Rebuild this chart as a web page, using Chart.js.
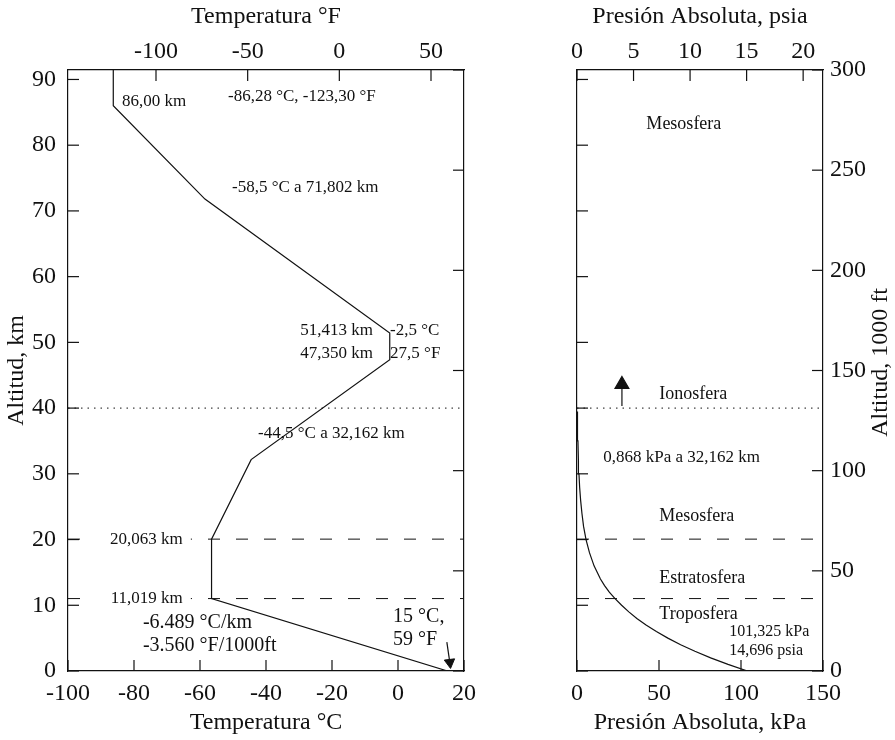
<!DOCTYPE html>
<html>
<head>
<meta charset="utf-8">
<script src="https://cdn.jsdelivr.net/npm/chart.js@4.4.1/dist/chart.umd.min.js"></script>
<style>
  body { margin: 0; background: #fff; }
  #wrap { position: relative; width: 895px; height: 740px; }
  #tempChart { position: absolute; left: 0; top: 0; }
  #presChart { position: absolute; left: 540px; top: 0; }
</style>
</head>
<body>
<div id="wrap">
  <canvas id="tempChart" width="484" height="740"></canvas>
  <canvas id="presChart" width="355" height="740"></canvas>
</div>
<script>
// temperature profile, °C against altitude in km
const tempC   = [15, -56.5, -56.5, -44.5, -2.5, -2.5, -58.5, -86.28, -86.28];
const tempAlt = [0, 11.019, 20.063, 32.162, 47.35, 51.413, 71.802, 86.0, 91.44];

// absolute pressure, kPa against altitude in km
const presAlt = [0, 1, 2, 3, 4, 5, 6, 7, 8, 9, 10, 11, 12, 13, 14, 16, 18, 20, 22, 24, 26, 28, 30, 32, 35, 39.5];
const presKPa = [103.9, 92.1, 81.5, 71.9, 63.2, 55.4, 48.4, 42.1, 36.5, 31.6, 27.2, 23.2, 19.7, 16.8, 14.3, 10.4, 7.6, 5.5, 4.0, 3.0, 2.2, 1.6, 1.2, 0.87, 0.57, 0.3];

// layer boundaries
const layerAlt = [11.019, 20.063];   // dashed
const ionoAlt = [40];                // dotted

// axis ranges
const tempRange = [-100, 20];
const presRange = [0, 150];
const altRange = [0, 91.44];         // 0 .. 300 000 ft

const cToF = c => c * 9 / 5 + 32;
const kpaToPsi = p => p / 6.894757;
const kmToKft = k => k / 0.3048;

const serif = "'Liberation Serif', 'Times New Roman', serif";
const ink = '#111';
Chart.defaults.font.family = serif;
Chart.defaults.color = ink;

// labels placed in data units (x, y)
const tempNotes = [
  { t: '86,00 km', x: -83.6, y: 86.6, size: 17 },
  { t: '-86,28 °C, -123,30 °F', x: -51.5, y: 87.4, size: 17 },
  { t: '-58,5 °C a 71,802 km', x: -50.3, y: 73.6, size: 17 },
  { t: '51,413 km', x: -7.6, y: 51.8, size: 17, align: 'right' },
  { t: '-2,5 °C', x: -2.4, y: 51.8, size: 17 },
  { t: '47,350 km', x: -7.6, y: 48.3, size: 17, align: 'right' },
  { t: '27,5 °F', x: -2.4, y: 48.3, size: 17 },
  { t: '-44,5 °C a 32,162 km', x: -42.4, y: 36.2, size: 17 },
  { t: '20,063 km', x: -65.2, y: 20.063, size: 17, align: 'right', bg: true },
  { t: '11,019 km', x: -65.2, y: 11.019, size: 17, align: 'right', bg: true },
  { t: '-6.489 °C/km', x: -77.3, y: 7.3, size: 20 },
  { t: '-3.560 °F/1000ft', x: -77.3, y: 3.8, size: 20 },
  { t: '15 °C,', x: -1.5, y: 8.2, size: 20 },
  { t: '59 °F', x: -1.5, y: 4.7, size: 20 }
];

const presNotes = [
  { t: 'Mesosfera', x: 42.3, y: 83.2, size: 18 },
  { t: 'Ionosfera', x: 50.2, y: 42.1, size: 18 },
  { t: '0,868 kPa a 32,162 km', x: 16.0, y: 32.5, size: 17 },
  { t: 'Mesosfera', x: 50.2, y: 23.6, size: 18 },
  { t: 'Estratosfera', x: 50.2, y: 14.1, size: 18 },
  { t: 'Troposfera', x: 50.2, y: 8.7, size: 18 },
  { t: '101,325 kPa', x: 92.9, y: 5.9, size: 16 },
  { t: '14,696 psia', x: 92.9, y: 3.0, size: 16 }
];

function notesPlugin(list) {
  return {
    id: 'notes',
    afterDatasetsDraw(chart) {
      const { ctx } = chart;
      const sx = chart.scales.x, sy = chart.scales.y;
      ctx.save();
      ctx.textBaseline = 'middle';
      list.forEach(n => {
        ctx.font = n.size + 'px ' + serif;
        ctx.textAlign = n.align || 'left';
        const px = sx.getPixelForValue(n.x);
        const py = sy.getPixelForValue(n.y);
        if (n.bg) {
          const w = ctx.measureText(n.t).width;
          const x0 = n.align === 'right' ? px - w : px;
          ctx.fillStyle = '#fff';
          ctx.fillRect(x0 - 28, py - 9, w + 36, 18);
        }
        ctx.fillStyle = ink;
        ctx.fillText(n.t, px, py);
      });
      ctx.restore();
    }
  };
}

// tick marks drawn inside the frame
const inwardTicks = {
  id: 'inwardTicks',
  afterDraw(chart) {
    const { ctx, chartArea: a } = chart;
    const len = 11;
    ctx.save();
    ctx.strokeStyle = ink;
    ctx.lineWidth = 1.2;
    Object.values(chart.scales).forEach(sc => {
      sc.ticks.forEach(tk => {
        const p = sc.getPixelForValue(tk.value);
        ctx.beginPath();
        if (sc.position === 'left') { ctx.moveTo(a.left, p); ctx.lineTo(a.left + len, p); }
        else if (sc.position === 'right') { ctx.moveTo(a.right, p); ctx.lineTo(a.right - len, p); }
        else if (sc.position === 'top') { ctx.moveTo(p, a.top); ctx.lineTo(p, a.top + len); }
        else { ctx.moveTo(p, a.bottom); ctx.lineTo(p, a.bottom - len); }
        ctx.stroke();
      });
    });
    ctx.restore();
  }
};

const rightTitle = {
  id: 'rightTitle',
  afterDraw(chart) {
    const { ctx, chartArea: a } = chart;
    ctx.save();
    ctx.translate(341, (a.top + a.bottom) / 2 - 8);
    ctx.rotate(-Math.PI / 2);
    ctx.font = '24px ' + serif;
    ctx.fillStyle = ink;
    ctx.textAlign = 'center';
    ctx.textBaseline = 'middle';
    ctx.fillText('Altitud, 1000 ft', 0, 0);
    ctx.restore();
  }
};

const pts = (xs, ys) => xs.map((v, i) => ({ x: v, y: ys[i] }));
const hLine = (h, range) => [{ x: range[0], y: h }, { x: range[1], y: h }];

function lineSet(data, extra) {
  return Object.assign({
    data: data,
    showLine: true,
    borderColor: ink,
    backgroundColor: ink,
    borderWidth: 1.2,
    pointRadius: 0,
    fill: false
  }, extra || {});
}

function axis(position, min, max, step, opts) {
  const o = opts || {};
  return {
    type: 'linear',
    position: position,
    min: min,
    max: max,
    grid: { display: false, drawTicks: false },
    border: { display: true, color: ink, width: 1.2 },
    ticks: {
      stepSize: step,
      includeBounds: false,
      display: o.labels !== false,
      padding: o.pad || 8,
      maxRotation: 0,
      autoSkip: false,
      font: { size: 24 },
      color: ink
    },
    title: o.title ? {
      display: true,
      text: o.title,
      font: { size: 24 },
      color: ink,
      padding: o.titlePad || { top: 2, bottom: 3 }
    } : { display: false },
    afterFit(s) {
      if (s.isHorizontal()) s.height = o.size; else s.width = o.size;
    }
  };
}

const baseOptions = {
  responsive: false,
  animation: false,
  layout: { padding: 0 },
  plugins: { legend: { display: false }, tooltip: { enabled: false } },
  elements: { line: { tension: 0 } }
};

// left panel: temperature
new Chart(document.getElementById('tempChart'), {
  type: 'scatter',
  data: {
    datasets: [
      lineSet(pts(tempC, tempAlt)),
      ...layerAlt.map(h => lineSet(hLine(h, tempRange), { borderDash: [12, 16], borderWidth: 1 })),
      ...ionoAlt.map(h => lineSet(hLine(h, tempRange), { borderDash: [1.5, 5], borderWidth: 1 })),
      lineSet([{ x: 14.8, y: 4.4 }, { x: 15.7, y: 1.3 }], {
        pointRadius: [0, 6], pointStyle: 'triangle', pointRotation: 173,
        pointBackgroundColor: ink, pointBorderColor: ink, pointBorderWidth: 1
      })
    ]
  },
  options: Object.assign({}, baseOptions, {
    scales: {
      x: axis('bottom', tempRange[0], tempRange[1], 20, { size: 69, title: 'Temperatura °C' }),
      xF: axis('top', cToF(tempRange[0]), cToF(tempRange[1]), 50, { size: 70, pad: 4, title: 'Temperatura °F' }),
      y: axis('left', altRange[0], altRange[1], 10, { size: 68, pad: 12, title: 'Altitud, km' }),
      yFt: axis('right', kmToKft(altRange[0]), kmToKft(altRange[1]), 50, { size: 16, labels: false })
    }
  }),
  plugins: [notesPlugin(tempNotes), inwardTicks]
});

// right panel: pressure
new Chart(document.getElementById('presChart'), {
  type: 'scatter',
  data: {
    datasets: [
      lineSet(pts(presKPa, presAlt)),
      ...layerAlt.map(h => lineSet(hLine(h, presRange), { borderDash: [12, 16], borderWidth: 1 })),
      ...ionoAlt.map(h => lineSet(hLine(h, presRange), { borderDash: [1.5, 5], borderWidth: 1 })),
      lineSet([{ x: 27.4, y: 40.3 }, { x: 27.4, y: 43.6 }], {
        pointRadius: [0, 8], pointStyle: 'triangle', pointRotation: 0,
        pointBackgroundColor: ink, pointBorderColor: ink
      })
    ]
  },
  options: Object.assign({}, baseOptions, {
    scales: {
      x: axis('bottom', presRange[0], presRange[1], 50, { size: 69, title: 'Presión Absoluta, kPa' }),
      xP: axis('top', kpaToPsi(presRange[0]), kpaToPsi(presRange[1]), 5, { size: 70, pad: 4, title: 'Presión Absoluta, psia' }),
      y: axis('left', altRange[0], altRange[1], 10, { size: 37, labels: false }),
      yFt: axis('right', kmToKft(altRange[0]), kmToKft(altRange[1]), 50, { size: 72, pad: 7 })
    }
  }),
  plugins: [notesPlugin(presNotes), inwardTicks, rightTitle]
});
</script>
</body>
</html>
